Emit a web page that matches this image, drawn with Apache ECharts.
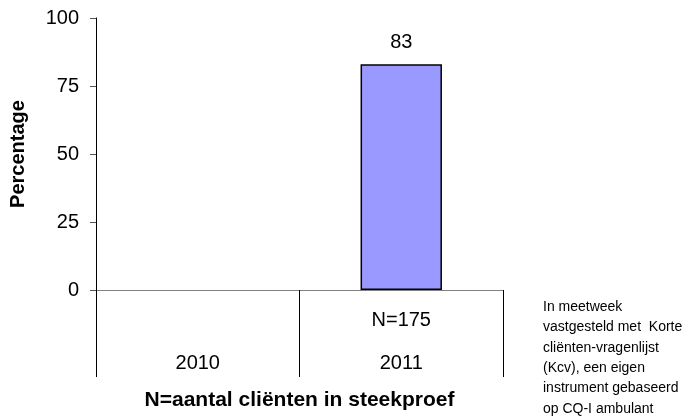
<!DOCTYPE html>
<html>
<head>
<meta charset="utf-8">
<script src="https://cdn.jsdelivr.net/npm/echarts@6/dist/echarts.min.js"></script>
<style>
  html, body { margin: 0; padding: 0; background: #fff; }
  #chart { width: 699px; height: 419px; }
</style>
</head>
<body>
<div id="chart"></div>
<script>
const years = ['2010', '2011']
const percentages = [null, 83]
const sampleSizes = ['', 'N=175']
const yTicks = [0, 25, 50, 75, 100]
const noteLines = [
  'In meetweek',
  'vastgesteld met  Korte',
  'cliënten-vragenlijst',
  '(Kcv), een eigen',
  'instrument gebaseerd',
  'op CQ-I ambulant'
]

const FONT = '"Liberation Sans", Arial, sans-serif'

const chart = echarts.init(document.getElementById('chart'), null, { renderer: 'canvas' })

chart.setOption({
  backgroundColor: '#fff',
  animation: false,
  textStyle: { fontFamily: FONT },
  grid: { left: 93, right: 196, top: 18, bottom: 129, containLabel: false },
  xAxis: {
    type: 'category',
    data: years,
    name: 'N=aantal cliënten in steekproef',
    nameLocation: 'middle',
    nameGap: 100,
    nameTextStyle: { fontSize: 21, fontWeight: 'bold', color: '#000', fontFamily: FONT },
    axisLine: { lineStyle: { color: '#808080', width: 1 } },
    axisTick: { show: true, length: 87, lineStyle: { color: '#000', width: 1 } },
    axisLabel: {
      margin: 9,
      color: '#000',
      fontSize: 20,
      fontFamily: FONT,
      formatter: (v, i) => `{n|${sampleSizes[i] || ' '}}\n{y|${v}}`,
      rich: {
        n: { fontSize: 20, lineHeight: 43, color: '#000', fontFamily: FONT },
        y: { fontSize: 20, lineHeight: 43, color: '#000', fontFamily: FONT }
      }
    }
  },
  yAxis: {
    type: 'value',
    min: yTicks[0],
    max: yTicks[yTicks.length - 1],
    interval: 25,
    name: 'Percentage',
    nameLocation: 'middle',
    nameGap: 68,
    nameTextStyle: { fontSize: 20, fontWeight: 'bold', color: '#000', fontFamily: FONT },
    axisLine: { show: true, lineStyle: { color: '#000', width: 1 } },
    axisTick: { show: true, length: 6, lineStyle: { color: '#555' } },
    axisLabel: { margin: 17, color: '#000', fontSize: 20, fontFamily: FONT },
    splitLine: { show: false }
  },
  series: [{
    type: 'bar',
    data: percentages,
    barWidth: '40%',
    itemStyle: { color: '#9999ff', borderColor: '#000', borderWidth: 1.5 },
    label: {
      show: true,
      position: 'top',
      distance: 12,
      color: '#000',
      fontSize: 20,
      fontFamily: FONT
    }
  }],
  graphic: [{
    type: 'text',
    left: 543,
    top: 297,
    style: {
      text: noteLines.join('\n'),
      fontSize: 14,
      lineHeight: 20.3,
      fill: '#000',
      fontFamily: FONT
    }
  }]
})
</script>
</body>
</html>
